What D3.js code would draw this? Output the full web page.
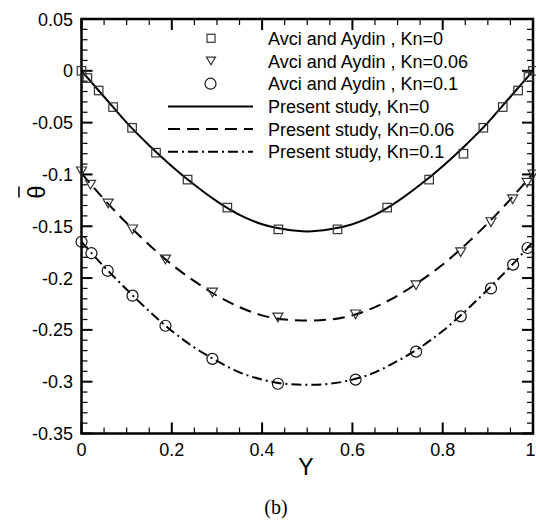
<!DOCTYPE html>
<html>
<head>
<meta charset="utf-8">
<script src="https://cdn.jsdelivr.net/npm/d3@7"></script>
<style>
  body { margin: 0; background: #fff; }
  svg { display: block; font-family: "Liberation Sans", Arial, sans-serif; }
</style>
</head>
<body>
<svg id="chart"></svg>
<script>
// curve samples (Present study)
const lineY = [0, 0.05, 0.1, 0.15, 0.2, 0.25, 0.3, 0.35, 0.4, 0.45, 0.5,
  0.55, 0.6, 0.65, 0.7, 0.75, 0.8, 0.85, 0.9, 0.95, 1];
const kn0Line = [0, -0.025, -0.05, -0.072, -0.092, -0.11, -0.126, -0.139, -0.148, -0.153, -0.155,
  -0.153, -0.148, -0.139, -0.126, -0.11, -0.092, -0.072, -0.05, -0.025, 0];
const kn006Line = [-0.099, -0.124, -0.147, -0.168, -0.187, -0.203, -0.217, -0.228, -0.236, -0.24, -0.241,
  -0.24, -0.236, -0.228, -0.217, -0.203, -0.187, -0.168, -0.147, -0.124, -0.099];
const kn01Line = [-0.165, -0.189, -0.211, -0.232, -0.251, -0.267, -0.28, -0.291, -0.298, -0.302, -0.303,
  -0.302, -0.298, -0.291, -0.28, -0.267, -0.251, -0.232, -0.211, -0.189, -0.165];

// Avci and Aydin points
const sqY = [0, 0.013, 0.038, 0.07, 0.112, 0.165, 0.235, 0.323, 0.436, 0.567, 0.677, 0.77, 0.846, 0.89, 0.933, 0.967, 0.99, 1];
const sqT = [0, -0.007, -0.019, -0.035, -0.055, -0.079, -0.105, -0.132, -0.153, -0.153, -0.132, -0.105, -0.08, -0.055, -0.035, -0.019, -0.006, 0];
const triY = [0, 0.02, 0.059, 0.113, 0.186, 0.29, 0.435, 0.607, 0.741, 0.84, 0.907, 0.955, 0.987, 1];
const triT = [-0.097, -0.11, -0.128, -0.153, -0.182, -0.214, -0.238, -0.235, -0.207, -0.175, -0.146, -0.124, -0.108, -0.1];
const cirY = [0, 0.022, 0.058, 0.113, 0.186, 0.29, 0.435, 0.607, 0.741, 0.84, 0.907, 0.956, 0.988];
const cirT = [-0.165, -0.176, -0.193, -0.217, -0.246, -0.278, -0.302, -0.298, -0.271, -0.237, -0.21, -0.187, -0.171];

const xTicks = [0, 0.2, 0.4, 0.6, 0.8, 1];
const yTicks = [0.05, 0, -0.05, -0.1, -0.15, -0.2, -0.25, -0.3, -0.35];

const legendLabels = [
  "Avci and Aydin , Kn=0",
  "Avci and Aydin , Kn=0.06",
  "Avci and Aydin , Kn=0.1",
  "Present study, Kn=0",
  "Present study, Kn=0.06",
  "Present study, Kn=0.1"
];

const width = 536, height = 520;
const plotL = 81.5, plotR = 533, plotT = 19, plotB = 433.5;

const svg = d3.select("#chart").attr("width", width).attr("height", height);

const x = d3.scaleLinear().domain([0, 1]).range([plotL, plotR]);
const y = d3.scaleLinear().domain([-0.35, 0.05]).range([plotB, plotT]);

const fmt = (d) => String(d);

// ticks, inward on all four sides
const g = svg.append("g");
const majLen = 11, minLen = 6;
const xMinor = d3.range(0, 1.0001, 0.05).filter((v) => Math.abs(v * 5 - Math.round(v * 5)) > 1e-6);
const yMinor = d3.range(-0.35, 0.0501, 0.01).filter((v) => Math.abs(v * 20 - Math.round(v * 20)) > 1e-6);

function tickLines(vals, len, sw) {
  vals.forEach((v) => {
    const px = x(v);
    g.append("line").attr("x1", px).attr("x2", px).attr("y1", plotB).attr("y2", plotB - len)
      .attr("stroke", "#000").attr("stroke-width", sw);
    g.append("line").attr("x1", px).attr("x2", px).attr("y1", plotT).attr("y2", plotT + len)
      .attr("stroke", "#000").attr("stroke-width", sw);
  });
}
function tickLinesY(vals, len, sw) {
  vals.forEach((v) => {
    const py = y(v);
    g.append("line").attr("x1", plotL).attr("x2", plotL + len).attr("y1", py).attr("y2", py)
      .attr("stroke", "#000").attr("stroke-width", sw);
    g.append("line").attr("x1", plotR).attr("x2", plotR - len).attr("y1", py).attr("y2", py)
      .attr("stroke", "#000").attr("stroke-width", sw);
  });
}
tickLines(xMinor, minLen, 1.2);
tickLines(xTicks, majLen, 2);
tickLinesY(yMinor, minLen, 1.2);
tickLinesY(yTicks, majLen, 2);

g.append("rect").attr("x", plotL).attr("y", plotT).attr("width", plotR - plotL).attr("height", plotB - plotT)
  .attr("fill", "none").attr("stroke", "#000").attr("stroke-width", 2.5);

// tick labels (last one nudged so it stays inside the page)
svg.append("g").selectAll("text").data(xTicks).join("text")
  .attr("x", (d) => Math.min(x(d), 530.5)).attr("y", 456).attr("text-anchor", "middle")
  .attr("font-size", 18).text(fmt);
svg.append("g").selectAll("text").data(yTicks).join("text")
  .attr("x", 73).attr("y", (d) => y(d) + 6.5).attr("text-anchor", "end")
  .attr("font-size", 18).text(fmt);

// axis titles
svg.append("text").attr("x", 306).attr("y", 475).attr("text-anchor", "middle")
  .attr("font-size", 23).text("Y");
svg.append("text").attr("transform", "translate(45,192) rotate(-90)").attr("text-anchor", "middle")
  .attr("font-size", 24).text("θ");
svg.append("line").attr("x1", 19).attr("x2", 19).attr("y1", 186.5).attr("y2", 197.5)
  .attr("stroke", "#000").attr("stroke-width", 1.5);

svg.append("text").attr("x", 276).attr("y", 514).attr("text-anchor", "middle")
  .attr("font-family", "'Liberation Serif', 'Times New Roman', serif")
  .attr("font-size", 20).text("(b)");

// curves
const dashes = [null, "12,7", "10,4,2,4"];
const curves = [kn0Line, kn006Line, kn01Line];
const line = d3.line().x((d) => x(d[0])).y((d) => y(d[1])).curve(d3.curveMonotoneX);
const plot = svg.append("g");
curves.forEach((vals, i) => {
  plot.append("path")
    .datum(lineY.map((v, k) => [v, vals[k]]))
    .attr("d", line)
    .attr("fill", "none").attr("stroke", "#000").attr("stroke-width", 2)
    .attr("stroke-dasharray", dashes[i]);
});

// markers
const mk = "#333";
function square(sel, cx, cy, s) {
  sel.append("rect").attr("x", cx - s / 2).attr("y", cy - s / 2).attr("width", s).attr("height", s)
    .attr("fill", "none").attr("stroke", mk).attr("stroke-width", 1.2);
}
function triangle(sel, cx, cy, w) {
  const h = w * 0.87;
  sel.append("path")
    .attr("d", `M${cx - w / 2},${cy - h / 2}L${cx + w / 2},${cy - h / 2}L${cx},${cy + h / 2}Z`)
    .attr("fill", "none").attr("stroke", mk).attr("stroke-width", 1.2);
}
function circle(sel, cx, cy, r) {
  sel.append("circle").attr("cx", cx).attr("cy", cy).attr("r", r)
    .attr("fill", "none").attr("stroke", "#111").attr("stroke-width", 1.2);
}
sqY.forEach((v, i) => square(plot, x(v), y(sqT[i]), 8.5));
triY.forEach((v, i) => triangle(plot, x(v), y(triT[i]), 10));
cirY.forEach((v, i) => circle(plot, x(v), y(cirT[i]), 5.5));

// legend
const leg = svg.append("g");
const rowY = (i) => 38.3 + i * 22.7;
legendLabels.forEach((t, i) => {
  leg.append("text").attr("x", 268).attr("y", rowY(i) + 6.5).attr("font-size", 18).text(t);
});
square(leg, 211, rowY(0), 8);
triangle(leg, 211, rowY(1), 9);
circle(leg, 210.5, rowY(2), 5.5);
[0, 1, 2].forEach((i) => {
  leg.append("line").attr("x1", 168).attr("x2", 253).attr("y1", rowY(3 + i)).attr("y2", rowY(3 + i))
    .attr("stroke", "#000").attr("stroke-width", 2).attr("stroke-dasharray", dashes[i]);
});
</script>
</body>
</html>
